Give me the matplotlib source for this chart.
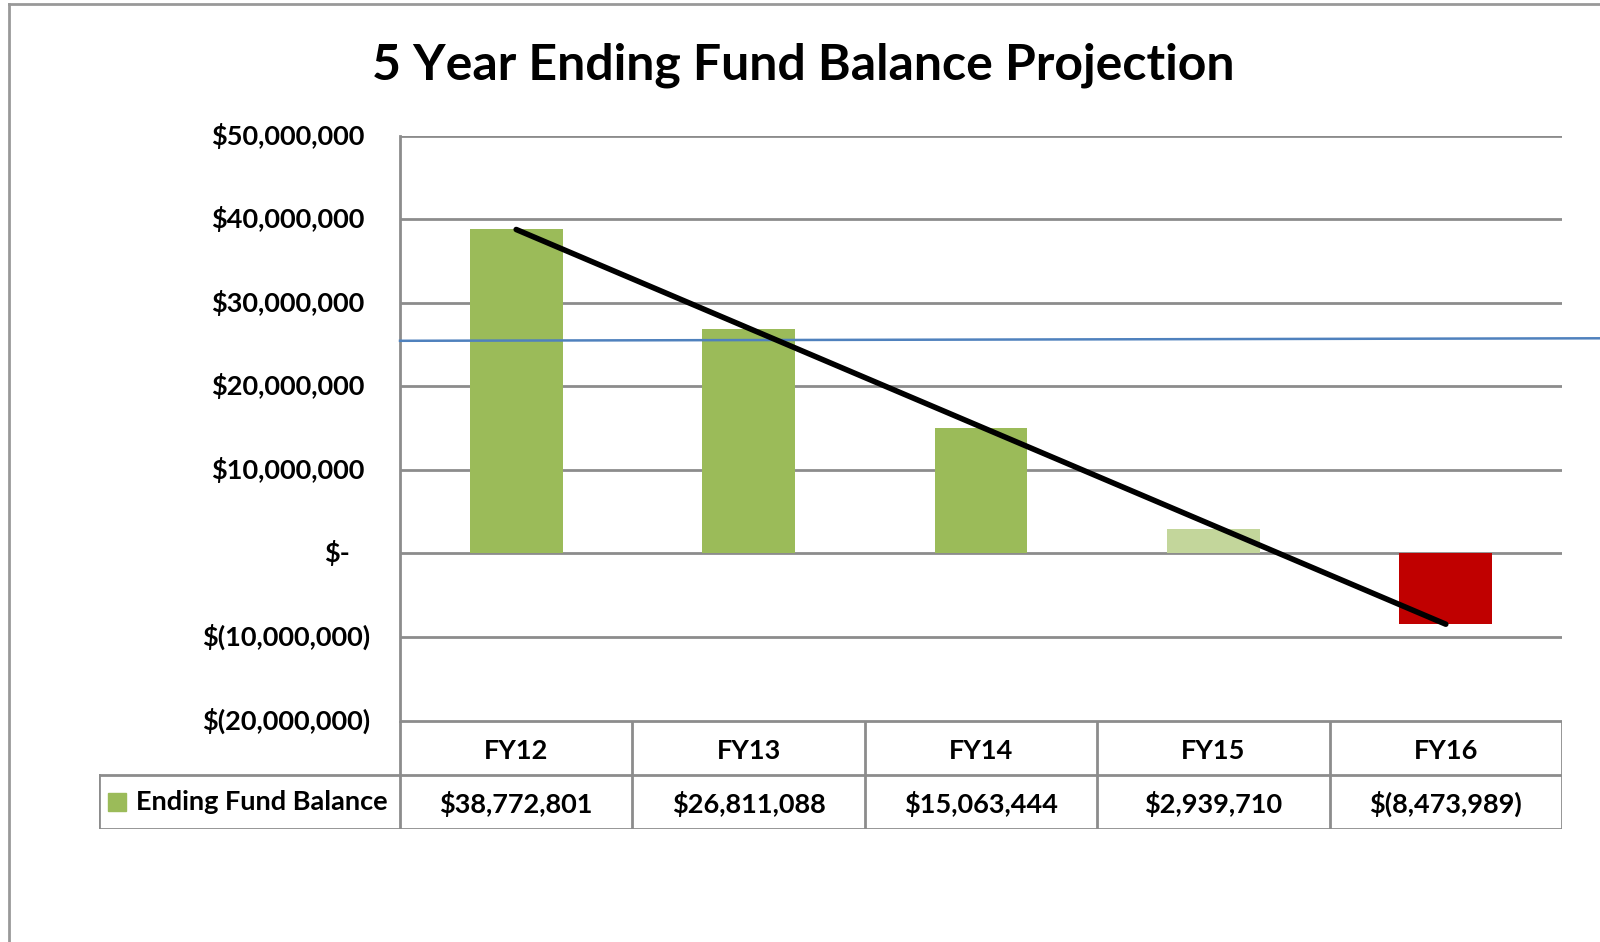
import matplotlib
matplotlib.use("Agg")
import matplotlib.pyplot as plt
from matplotlib.lines import Line2D
from matplotlib.patches import Rectangle
import matplotlib.transforms as mtransforms

# --- Data ---
years = ["FY12", "FY13", "FY14", "FY15", "FY16"]
balances = [38772801, 26811088, 15063444, 2939710, -8473989]
bar_colors = ["#9BBB59", "#9BBB59", "#9BBB59", "#C3D69B", "#C00000"]
y_ticks = [50e6, 40e6, 30e6, 20e6, 10e6, 0, -10e6, -20e6]
reserve_level = [25.45e6, 25.75e6]   # hand drawn blue line, left / right end
series_name = "Ending Fund Balance"

plt.rcParams['font.family'] = ['Lato', 'DejaVu Sans']
plt.rcParams['font.weight'] = 'bold'


def money(v):
    # accounting style: negatives in brackets, zero as a dash
    if v == 0:
        return "$-"
    if v < 0:
        return "$({:,.0f})".format(-v)
    return "${:,.0f}".format(v)


W, H = 1600, 942
fig = plt.figure(figsize=(16, 9.42), dpi=100)

# pixel layout of the plot area and the data table
ax_l, ax_r, ax_t, ax_b = 400, 1562, 135.7, 720.5
tb_l, tb_b = 99, 829
fs = 19.5

ax = fig.add_axes([ax_l / W, 1 - ax_b / H, (ax_r - ax_l) / W, (ax_b - ax_t) / H])
x = list(range(len(years)))
ax.bar(x, balances, width=0.4, color=bar_colors, zorder=2)
ax.set_xlim(-0.5, len(years) - 0.5)
ax.set_ylim(-20e6, 50e6)
ax.set_yticks(y_ticks)
ax.set_yticklabels([])
ax.tick_params(length=0)
ax.set_xticks([])
ax.grid(axis='y', color='#8c8c8c', linewidth=2, zorder=0)
for side in ['top', 'right', 'bottom']:
    ax.spines[side].set_visible(False)
ax.spines['left'].set_color('#8c8c8c')
ax.spines['left'].set_linewidth(2)

# y labels, accounting alignment (positives leave room for the bracket)
for t in y_ticks:
    dx = -30 if t < 0 else (-36 if t > 0 else -50)
    off = mtransforms.offset_copy(ax.get_yaxis_transform(), fig=fig, x=dx, y=0, units='dots')
    ax.text(0, t, money(t), transform=off, ha='right', va='center', fontsize=fs, fontweight='bold')

# reserve line (runs past the plot area) and trend line
ext = (W - ax_r) / ((ax_r - ax_l) / len(years))
ax.plot([-0.5, len(years) - 0.5 + ext], reserve_level, color='#4F81BD', linewidth=1.8,
        zorder=3, clip_on=False)
ax.plot([x[0], x[-1]], [balances[0], balances[-1]], color='black', linewidth=4,
        solid_capstyle='round', zorder=4)

# --- data table ---
cat_px = (ax_r - ax_l) / len(years)
tax = fig.add_axes([tb_l / W, 1 - tb_b / H, (ax_r - tb_l) / W, (tb_b - ax_b) / H])
tax.set_xlim(-0.5 - (ax_l - tb_l) / cat_px, len(years) - 0.5)
tax.set_ylim(0, 2)
tax.axis('off')
left = -0.5 - (ax_l - tb_l) / cat_px
lc = '#8c8c8c'
lw = 2
tax.add_line(Line2D([-0.5, len(years) - 0.5], [2, 2], color=lc, lw=lw))
tax.add_line(Line2D([left, len(years) - 0.5], [1, 1], color=lc, lw=lw))
tax.add_line(Line2D([left, len(years) - 0.5], [0, 0], color=lc, lw=lw))
tax.add_line(Line2D([left, left], [0, 1], color=lc, lw=lw))
for i in range(len(years) + 1):
    tax.add_line(Line2D([i - 0.5, i - 0.5], [0, 2], color=lc, lw=lw))
for i, (yr, v) in enumerate(zip(years, balances)):
    tax.text(i, 1.43, yr, ha='center', va='center', fontsize=fs, fontweight='bold')
    tax.text(i, 0.47, money(v), ha='center', va='center', fontsize=fs, fontweight='bold')
sq = 18 / cat_px
tax.add_patch(Rectangle((left + 9 / cat_px, 0.5 - 0.17), sq, 0.34, color='#9BBB59'))
tax.text(left + 37 / cat_px, 0.5, series_name, ha='left', va='center', fontsize=fs,
         fontweight='bold')

fig.text(0.502, 1 - 65 / H, "5 Year Ending Fund Balance Projection", ha='center',
         va='center', fontsize=36, fontweight='bold')

# outer chart border (top and left edges visible)
fig.add_artist(Line2D([9 / W, 1], [1 - 4 / H, 1 - 4 / H], color='#999999', lw=2))
fig.add_artist(Line2D([9 / W, 9 / W], [0, 1 - 4 / H], color='#999999', lw=2))

fig.savefig("out.png", dpi=100)
